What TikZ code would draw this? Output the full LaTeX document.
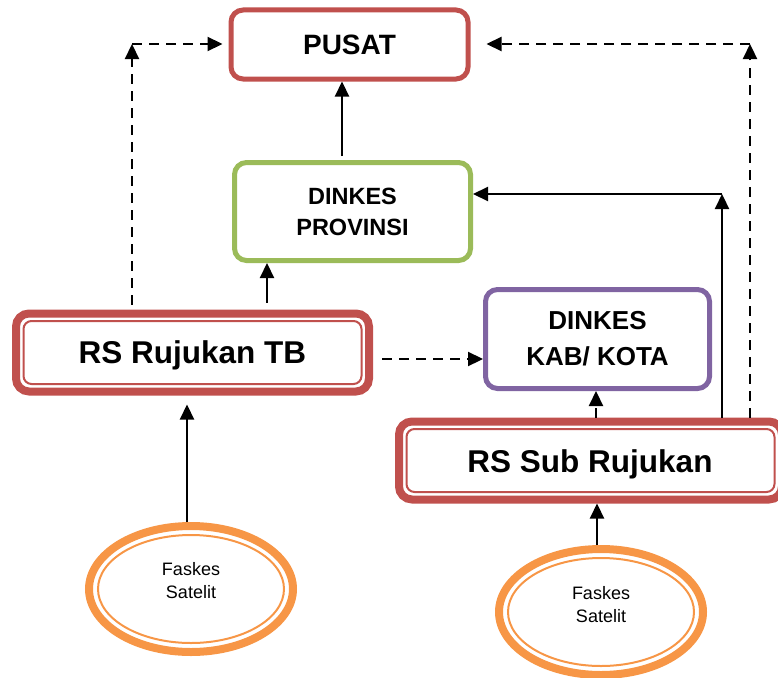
\documentclass[tikz,border=0pt]{standalone}
\usepackage{fontspec}
\setmainfont{Liberation Sans}
\usetikzlibrary{arrows.meta,shapes.geometric}
\definecolor{cred}{HTML}{C0504D}
\definecolor{cgreen}{HTML}{9BBB59}
\definecolor{cpurple}{HTML}{8064A2}
\definecolor{corange}{HTML}{F79646}
\tikzset{
  box/.style={draw, rounded corners=12pt, line width=5pt, align=center, font=\bfseries},
  dbox/.style={draw=cred, rounded corners=13pt, line width=8pt},
  sat/.style={draw=corange, ellipse, line width=8pt, minimum width=204pt, minimum height=126pt},
  arr/.style={line width=2.2pt, -{Triangle[length=15pt,width=14pt]}},
  darr/.style={arr, dash pattern=on 10pt off 7pt},
}
\begin{document}
\begin{tikzpicture}[x=1pt,y=-1pt]
\useasboundingbox (0,0) rectangle (778,677);
\clip (0,0) rectangle (778,677);
% boxes
\node[box, draw=cred, minimum width=237pt, minimum height=69pt, font=\bfseries\fontsize{28}{34}\selectfont] (pusat) at (349.5,44.5) {PUSAT};
\node[box, draw=cgreen, minimum width=236pt, minimum height=98pt, font=\bfseries\fontsize{23.5}{31}\selectfont] (prov) at (352.5,211.5) {DINKES\\PROVINSI};
\node[box, draw=cpurple, minimum width=224pt, minimum height=99pt, font=\bfseries\fontsize{26}{36}\selectfont] (kab) at (597.5,339) {DINKES\\KAB/ KOTA};
\node[dbox, minimum width=353pt, minimum height=78pt, text depth=0pt, font=\bfseries\fontsize{31.5}{36}\selectfont] (rstb) at (192.5,352.5) {RS Rujukan TB};
\draw[cred, line width=2pt, rounded corners=8pt] ([shift={(11.5,11.5)}]rstb.north west) rectangle ([shift={(-11.5,-11.5)}]rstb.south east);
\node[dbox, minimum width=383pt, minimum height=78pt] (rssub) at (590.5,460.5) {};
\node[text depth=0pt, font=\bfseries\fontsize{31.5}{36}\selectfont] (rssubt) at (590,461) {RS Sub Rujukan};
\draw[cred, line width=2pt, rounded corners=8pt] ([shift={(11.5,11.5)}]rssub.north west) rectangle ([shift={(-11.5,-11.5)}]rssub.south east);
% ellipses
\node[sat] (sat1) at (191,589) {};
\draw[corange, line width=2pt] (sat1.center) ellipse [x radius=93, y radius=54];
\node[align=center, font=\fontsize{18}{23.5}\selectfont] (sat1t) at (191,580.5) {Faskes\\Satelit};
\node[sat] (sat2) at (601,612) {};
\draw[corange, line width=2pt] (sat2.center) ellipse [x radius=93, y radius=54];
\node[align=center, font=\fontsize{18}{23.5}\selectfont] (sat2t) at (601,604.5) {Faskes\\Satelit};
% corner coordinates
\coordinate (cl) at (132,44);
\coordinate (cr) at (750,44);
\coordinate (cs) at (722,194);
% connectors
\draw[arr] ([yshift=4pt]prov.north -| 342,0) -- (pusat.south -| 342,0);
\draw[arr] ([yshift=7pt]rstb.north -| 267,0) -- (prov.south -| 267,0);
\draw[darr] ([yshift=5pt]rstb.north -| cl) -- (cl);
\draw[darr] (cl) -- ([xshift=-6pt]pusat.west |- cl);
\draw[darr] (rssub.north -| cr) -- (cr);
\draw[darr] (cr) -- ([xshift=16pt]pusat.east |- cr);
\draw[arr] (rssub.north -| cs) -- (cs);
\draw[arr] (cs) -- (prov.east |- cs);
\draw[darr] ([xshift=9pt]rstb.east |- 0,359) -- (kab.west |- 0,359);
\draw[darr] (rssub.north -| 596,0) -- (kab.south -| 596,0);
\draw[arr] (sat1.north -| 187,0) -- ([yshift=-9pt]rstb.south -| 187,0);
\draw[arr] (sat2.north -| 597,0) -- (rssub.south -| 597,0);
\end{tikzpicture}
\end{document}
